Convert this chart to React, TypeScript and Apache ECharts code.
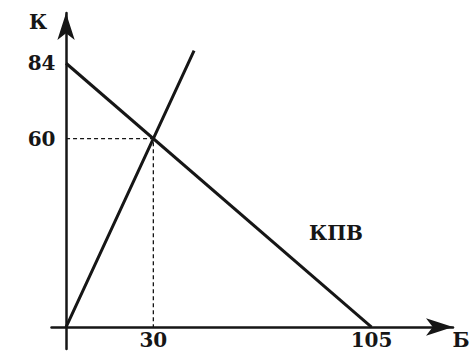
import React, { useEffect, useRef } from "react";
import * as echarts from "echarts";

// Production possibilities curve (КПВ): 84 of К or 105 of Б
const kpvLine: [number, number][] = [
  [0, 84],
  [105, 0],
];
// Ray from the origin through the chosen point (30, 60)
const rayLine: [number, number][] = [
  [0, 0],
  [30, 60],
  [44, 88],
];
// Guide lines to the chosen point
const guideLine: [number, number][] = [
  [0, 60],
  [30, 60],
  [30, 0],
];
const xTicks = [30, 105];
const yTicks = [60, 84];
const xName = "Б";
const yName = "К";
const curveName = "КПВ";

const FONT = "DejaVu Serif";
const INK = "#161616";

export default function App() {
  const ref = useRef<HTMLDivElement>(null);
  useEffect(() => {
    if (!ref.current) return;
    const chart = echarts.init(ref.current, undefined, { renderer: "svg" });
    const axisText = { fontFamily: FONT, fontSize: 20, fontWeight: "bold", color: INK, lineHeight: 18 };
    const labelFont = `bold 20px '${FONT}'`;
    chart.setOption({
      animation: false,
      backgroundColor: "#ffffff",
      grid: {
        left: 51.5,
        right: 19,
        top: 13,
        bottom: 6,
        containLabel: false,
        outerBoundsMode: "none",
      },
      xAxis: {
        type: "value",
        min: -5,
        max: 133,
        splitLine: { show: false },
        axisTick: { show: false },
        axisLine: {
          onZero: true,
          symbol: ["none", "arrow"],
          symbolSize: [13, 27],
          lineStyle: { color: INK, width: 2.5 },
        },
        axisLabel: { ...axisText, customValues: xTicks, margin: -18 },
      },
      yAxis: {
        type: "value",
        min: -7,
        max: 100,
        splitLine: { show: false },
        axisTick: { show: false },
        axisLine: {
          onZero: true,
          symbol: ["none", "arrow"],
          symbolSize: [13, 27],
          lineStyle: { color: INK, width: 2.5 },
        },
        axisLabel: { ...axisText, customValues: yTicks, margin: -4 },
      },
      graphic: [
        {
          type: "text",
          x: 38,
          y: 22,
          style: { text: yName, font: labelFont, fill: INK, align: "center", verticalAlign: "middle" },
        },
        {
          type: "text",
          x: 461,
          y: 340,
          style: { text: xName, font: labelFont, fill: INK, align: "center", verticalAlign: "middle" },
        },
        {
          type: "text",
          x: 336,
          y: 233,
          style: { text: curveName, font: labelFont, fill: INK, align: "center", verticalAlign: "middle" },
        },
      ],
      series: [
        {
          type: "line",
          data: guideLine,
          symbol: "none",
          silent: true,
          lineStyle: { color: INK, width: 1.3, type: [4, 3] },
        },
        {
          type: "line",
          data: kpvLine,
          symbol: "none",
          lineStyle: { color: INK, width: 3 },
        },
        {
          type: "line",
          data: rayLine,
          symbol: "none",
          lineStyle: { color: INK, width: 3 },
        },
      ],
    });
    return () => chart.dispose();
  }, []);
  return (
    <div
      ref={ref}
      style={{ position: "fixed", left: 0, top: 0, width: 472, height: 355, background: "#fff" }}
    />
  );
}
